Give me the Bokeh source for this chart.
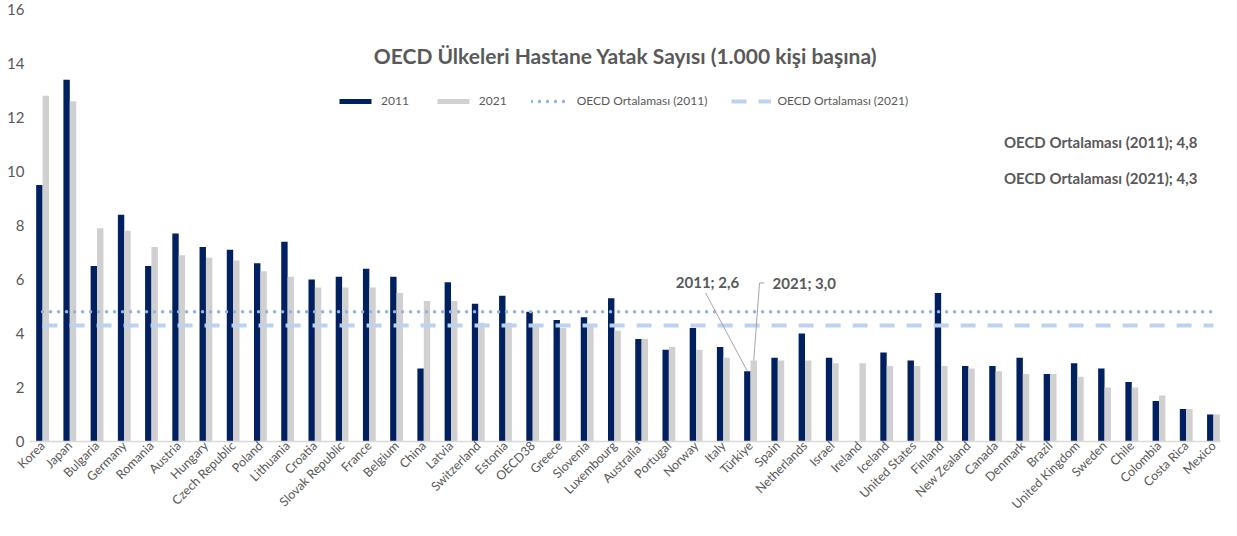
import math
from bokeh.plotting import figure
from bokeh.models import Range1d, FixedTicker, Legend, LegendItem, Label
from bokeh.embed import file_html
from bokeh.resources import INLINE

# ---------------- data ----------------
countries = ["Korea", "Japan", "Bulgaria", "Germany", "Romania", "Austria", "Hungary",
             "Czech Republic", "Poland", "Lithuania", "Croatia", "Slovak Republic", "France",
             "Belgium", "China", "Latvia", "Switzerland", "Estonia", "OECD38", "Greece",
             "Slovenia", "Luxembourg", "Australia¹", "Portugal", "Norway", "Italy", "Türkiye",
             "Spain", "Netherlands", "Israel", "Ireland", "Iceland", "United States", "Finland",
             "New Zealand", "Canada", "Denmark", "Brazil", "United Kingdom", "Sweden", "Chile",
             "Colombia", "Costa Rica", "Mexico"]
beds_2011 = [9.5, 13.4, 6.5, 8.4, 6.5, 7.7, 7.2, 7.1, 6.6, 7.4, 6.0, 6.1, 6.4, 6.1, 2.7,
             5.9, 5.1, 5.4, 4.8, 4.5, 4.6, 5.3, 3.8, 3.4, 4.2, 3.5, 2.6, 3.1, 4.0, 3.1,
             float("nan"), 3.3, 3.0, 5.5, 2.8, 2.8, 3.1, 2.5, 2.9, 2.7, 2.2, 1.5, 1.2, 1.0]
beds_2021 = [12.8, 12.6, 7.9, 7.8, 7.2, 6.9, 6.8, 6.7, 6.3, 6.1, 5.7, 5.7, 5.7, 5.5, 5.2,
             5.2, 4.4, 4.4, 4.3, 4.2, 4.3, 4.1, 3.8, 3.5, 3.4, 3.1, 3.0, 3.0, 3.0, 2.9,
             2.9, 2.8, 2.8, 2.8, 2.7, 2.6, 2.5, 2.5, 2.4, 2.0, 2.0, 1.7, 1.2, 1.0]
oecd_avg_2011 = 4.8
oecd_avg_2021 = 4.3
y_ticks = [0, 2, 4, 6, 8, 10, 12, 14, 16]
series_names = ["2011", "2021", "OECD Ortalaması (2011)", "OECD Ortalaması (2021)"]
title_text = "OECD Ülkeleri Hastane Yatak Sayısı (1.000 kişi başına)"
highlight = "Türkiye"

# ---------------- style ----------------
DARK = "#002060"
GREY = "#D0D0D0"
DOT_BLUE = "#8DB4E2"
DASH_BLUE = "#BDD2EE"
TXT = "#595959"
FONT = "Lato"

W, H = 1221, 520
idx = list(range(len(countries)))
bw = 0.235
off = bw / 2
X0 = -0.48
Y_END = 16.33

p = figure(width=W, height=H, output_backend="svg", toolbar_location=None,
           x_range=Range1d(X0, X0 + 1192 / 27.23), y_range=Range1d(0, Y_END),
           min_border_left=29, min_border_right=0, min_border_top=0, min_border_bottom=78)
p.outline_line_color = None
p.grid.grid_line_color = None
p.background_fill_color = "white"
p.border_fill_color = "white"

r11 = p.vbar(x=[i - off for i in idx], top=beds_2011, width=bw, color=DARK, line_width=0)
r21 = p.vbar(x=[i + off for i in idx], top=beds_2021, width=bw, color=GREY, line_width=0)
ra11 = p.line(x=idx, y=[oecd_avg_2011] * len(idx), line_color=DOT_BLUE, line_width=3.5,
              line_dash="0 8", line_cap="round")
ra21 = p.line(x=idx, y=[oecd_avg_2021] * len(idx), line_color=DASH_BLUE, line_width=4,
              line_dash="15 12")

# axes
p.xaxis.ticker = FixedTicker(ticks=idx)
p.xaxis.major_label_overrides = {i: c for i, c in enumerate(countries)}
p.xaxis.major_label_orientation = math.pi / 4
p.xaxis.major_label_text_font = FONT
p.xaxis.major_label_text_font_size = "12.5px"
p.xaxis.major_label_text_color = TXT
p.xaxis.major_label_standoff = 2
p.xaxis.major_tick_line_color = None
p.xaxis.major_tick_out = 0
p.xaxis.minor_tick_line_color = None
p.xaxis.axis_line_color = "#D9D9D9"
p.xaxis.axis_line_width = 1.5

p.yaxis.ticker = FixedTicker(ticks=y_ticks)
p.yaxis.major_label_text_font = FONT
p.yaxis.major_label_text_font_size = "15px"
p.yaxis.major_label_text_color = TXT
p.yaxis.major_label_standoff = 5
p.yaxis.major_tick_line_color = None
p.yaxis.major_tick_out = 0
p.yaxis.minor_tick_line_color = None
p.yaxis.axis_line_color = None

# legend
legend = Legend(items=[LegendItem(label=series_names[0], renderers=[r11]),
                       LegendItem(label=series_names[1], renderers=[r21]),
                       LegendItem(label=series_names[2], renderers=[ra11]),
                       LegendItem(label=series_names[3], renderers=[ra21])],
                orientation="horizontal", location=(306, 333),
                glyph_width=40, glyph_height=6, label_height=14, label_standoff=6,
                spacing=24, padding=0, margin=0,
                border_line_alpha=0, background_fill_alpha=0,
                label_text_font=FONT, label_text_font_size="12px", label_text_color=TXT)
p.add_layout(legend)

# title
p.add_layout(Label(x=21.41, y=14.3, text=title_text, text_font=FONT, text_font_style="bold",
                   text_font_size="21px", text_color=TXT, text_align="center",
                   text_baseline="middle"))

def fmt(v):
    return f"{v:.1f}".replace(".", ",")

# average annotations
p.add_layout(Label(x=42.41, y=11.08, text=f"{series_names[2]}; {fmt(oecd_avg_2011)}",
                   text_font=FONT, text_font_style="bold", text_font_size="15px",
                   text_color=TXT, text_align="right", text_baseline="middle"))
p.add_layout(Label(x=42.41, y=9.75, text=f"{series_names[3]}; {fmt(oecd_avg_2021)}",
                   text_font=FONT, text_font_style="bold", text_font_size="15px",
                   text_color=TXT, text_align="right", text_baseline="middle"))

# Türkiye callouts
ti = countries.index(highlight)
v11 = beds_2011[ti]
v21 = beds_2021[ti]
p.add_layout(Label(x=24.42, y=5.91, text=f"{series_names[0]}; {fmt(v11)}",
                   text_font=FONT, text_font_style="bold", text_font_size="15px",
                   text_color=TXT, text_align="center", text_baseline="middle"))
p.add_layout(Label(x=26.81, y=5.87, text=f"{series_names[1]}; {fmt(v21)}",
                   text_font=FONT, text_font_style="bold", text_font_size="15px",
                   text_color=TXT, text_align="left", text_baseline="middle"))
p.line(x=[24.35, ti - off], y=[5.5, v11], line_color="#A6A6A6", line_width=1)
p.line(x=[26.51, 26.33, ti + off], y=[5.87, 5.87, v21], line_color="#A6A6A6", line_width=1)

open("out.html", "w").write(file_html(p, INLINE))
